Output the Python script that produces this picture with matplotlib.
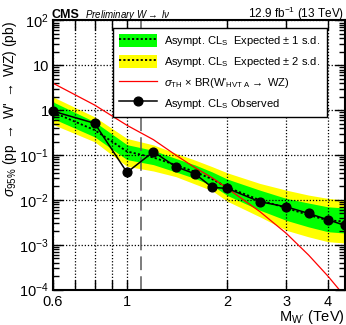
import matplotlib
matplotlib.use("Agg")
import matplotlib.pyplot as plt
from matplotlib.lines import Line2D
from matplotlib.patches import Patch
from matplotlib.ticker import FixedLocator, FixedFormatter, LogLocator, NullFormatter, NullLocator

plt.rcParams["font.family"] = ["Liberation Sans", "DejaVu Sans"]
plt.rcParams["mathtext.fontset"] = "custom"
plt.rcParams["mathtext.rm"] = "Liberation Sans"
plt.rcParams["mathtext.it"] = "Liberation Sans:italic"
plt.rcParams["mathtext.bf"] = "Liberation Sans:bold"

# W' mass points (TeV)
mass = [0.6, 0.8, 1.0, 1.2, 1.4, 1.6, 1.8, 2.0, 2.5, 3.0, 3.5, 4.0, 4.5]

# limits on sigma (pb)
observed = [0.95, 0.51, 0.041, 0.118, 0.055, 0.038, 0.019, 0.018, 0.0091, 0.0070, 0.0050, 0.0036, 0.0027]
expected = [0.90, 0.36, 0.12, 0.088, 0.060, 0.042, 0.029, 0.019, 0.0099, 0.0066, 0.0046, 0.0035, 0.0033]
exp_p1 = [1.53, 0.55, 0.17, 0.127, 0.084, 0.060, 0.042, 0.029, 0.0165, 0.0108, 0.0085, 0.0070, 0.0066]
exp_m1 = [0.65, 0.254, 0.079, 0.061, 0.042, 0.030, 0.021, 0.0125, 0.0059, 0.0035, 0.0025, 0.00195, 0.00182]
exp_p2 = [1.98, 0.71, 0.234, 0.168, 0.109, 0.077, 0.055, 0.040, 0.0233, 0.0165, 0.0128, 0.0108, 0.0099]
exp_m2 = [0.48, 0.197, 0.056, 0.044, 0.033, 0.0225, 0.016, 0.0093, 0.0042, 0.0021, 0.0015, 0.00117, 0.00109]

# theory cross section x BR (HVT model A)
theory = [4.0, 1.3, 0.46, 0.22, 0.10, 0.052, 0.031, 0.018, 0.0055, 0.0018, 0.00059, 0.0002, 0.00007]

boundary_mass = 1.1  # dashed line between analysis regimes

x_ticks = [0.6, 0.7, 0.8, 0.9, 1, 2, 3, 4]
x_ticklabels = ["0.6", "", "", "", "1", "2", "3", "4"]
y_ticks = [1e-4, 1e-3, 1e-2, 1e-1, 1, 10, 100]
y_ticklabels = [r"$10^{-4}$", r"$10^{-3}$", r"$10^{-2}$", r"$10^{-1}$", "1", "10", r"$10^{2}$"]

fig = plt.figure(figsize=(3.46, 3.25), dpi=100)
ax = fig.add_axes([0.153, 0.109, 0.844, 0.828])

ax.fill_between(mass, exp_m2, exp_p2, color="#ffff00", linewidth=0, zorder=1)
ax.fill_between(mass, exp_m1, exp_p1, color="#00ff00", linewidth=0, zorder=1.1)
ax.plot(mass, expected, color="black", linestyle=(0, (1.2, 1.2)), linewidth=1.3, zorder=3)
ax.plot(mass, theory, color="#ff0000", linewidth=0.9, zorder=3.5)
ax.plot(mass, observed, color="black", linewidth=1.1, marker="o", markersize=6.3,
        zorder=4, clip_on=False)
ax.axvline(boundary_mass, color="0.35", linewidth=1.1, dashes=(9, 4), zorder=2.6)

ax.set_xscale("log")
ax.set_yscale("log")
ax.set_xlim(0.6, 4.5)
ax.set_ylim(1e-4, 1e2)

ax.xaxis.set_major_locator(FixedLocator(x_ticks))
ax.xaxis.set_major_formatter(FixedFormatter(x_ticklabels))
ax.xaxis.set_minor_locator(NullLocator())
ax.yaxis.set_major_locator(FixedLocator(y_ticks))
ax.yaxis.set_major_formatter(FixedFormatter(y_ticklabels))
ax.yaxis.set_minor_locator(LogLocator(base=10, subs=range(2, 10)))
ax.yaxis.set_minor_formatter(NullFormatter())

ax.tick_params(which="both", direction="in", top=True, right=True, labelsize=10.5,
               width=1.0, colors="black")
ax.tick_params(which="major", length=7, pad=3)
ax.tick_params(which="minor", length=4)
ax.tick_params(axis="x", pad=4)

ax.grid(True, which="major", color="black", linestyle=(0, (1, 1.5)), linewidth=0.9)
ax.set_axisbelow(False)
for sp in ax.spines.values():
    sp.set_linewidth(1.5)
    sp.set_zorder(5)

ax.set_xlabel(r"M$_{\mathrm{W'}}$ (TeV)", fontsize=10.5, ha="right")
ax.xaxis.set_label_coords(1.0, -0.068)
ax.set_ylabel(r"$\sigma_{95\%}$ (pp $\rightarrow$ W' $\rightarrow$ WZ) (pb)", fontsize=10,
              ha="right")
ax.yaxis.set_label_coords(-0.115, 1.0)

band1 = (Patch(facecolor="#00ff00", edgecolor="none"),
         Line2D([], [], color="black", linestyle=(0, (1.2, 1.2)), linewidth=1.3))
band2 = (Patch(facecolor="#ffff00", edgecolor="none"),
         Line2D([], [], color="black", linestyle=(0, (1.2, 1.2)), linewidth=1.3))
th_handle = Line2D([], [], color="#ff0000", linewidth=0.9)
obs_handle = Line2D([], [], color="black", linewidth=1.1, marker="o", markersize=6.3)
labels = [
    r"Asympt. CL$_{\mathrm{S}}$  Expected $\pm$ 1 s.d.",
    r"Asympt. CL$_{\mathrm{S}}$  Expected $\pm$ 2 s.d.",
    r"$\sigma_{\mathrm{TH}}$ $\times$ BR(W'$_{\mathrm{HVT\ A}}$$\rightarrow$ WZ)",
    r"Asympt. CL$_{\mathrm{S}}$ Observed",
]
leg = ax.legend([band1, band2, th_handle, obs_handle], labels,
                loc="upper left", bbox_to_anchor=(0.205, 0.972), borderaxespad=0,
                fontsize=8, frameon=True, fancybox=False, edgecolor="black",
                framealpha=1, handlelength=3.4, handleheight=1.45,
                labelspacing=0.58, borderpad=0.55, handletextpad=0.7)
leg.get_frame().set_linewidth(1.0)
leg.set_zorder(6)

fig.text(0.150, 0.946, "CMS", fontsize=9, fontweight="bold", va="baseline")
fig.text(0.245, 0.946, r"Preliminary W$\rightarrow$ l$\nu$", fontsize=7, style="italic",
         va="baseline")
fig.text(0.994, 0.946, r"12.9 fb$^{-1}$ (13 TeV)", fontsize=8.5, ha="right", va="baseline")

fig.savefig("out.png", dpi=100)
